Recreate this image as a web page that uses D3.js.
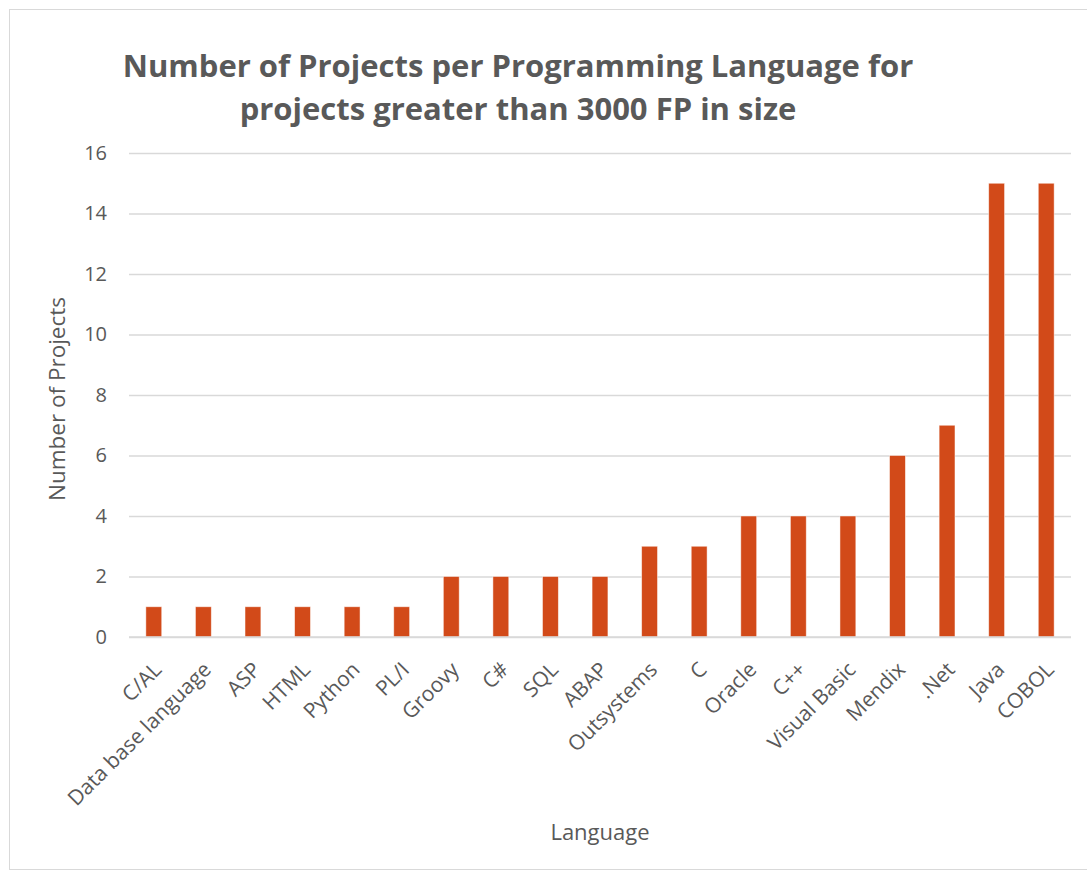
<!DOCTYPE html>
<html>
<head>
<meta charset="utf-8">
<script src="https://cdn.jsdelivr.net/npm/d3@7/dist/d3.min.js"></script>
<style>
  html, body { margin: 0; padding: 0; background: #fff; }
  svg { display: block; font-family: "Open Sans", "Noto Sans", sans-serif; }
</style>
</head>
<body>
<svg id="chart" width="1087" height="873"></svg>
<script>
// Project counts per language (projects > 3000 FP)
const languages = ["C/AL", "Data base language", "ASP", "HTML", "Python", "PL/I", "Groovy", "C#", "SQL", "ABAP",
  "Outsystems", "C", "Oracle", "C++", "Visual Basic", "Mendix", ".Net", "Java", "COBOL"];
const projectCounts = [1, 1, 1, 1, 1, 1, 2, 2, 2, 2, 3, 3, 4, 4, 4, 6, 7, 15, 15];
const yTicks = [0, 2, 4, 6, 8, 10, 12, 14, 16];
const titleLines = ["Number of Projects per Programming Language for", "projects greater than 3000 FP in size"];

const textColor = "#595959";
const gridColor = "#D9D9D9";
const barColor = "#D24A19";

const svg = d3.select("#chart");

// outer chart frame
svg.append("rect")
  .attr("x", 9.5).attr("y", 9.5)
  .attr("width", 1100).attr("height", 860)
  .attr("fill", "none").attr("stroke", gridColor).attr("stroke-width", 1);

const plot = { left: 129, right: 1071, top: 153, bottom: 637 };

const x = d3.scaleBand()
  .domain(languages)
  .range([plot.left, plot.right])
  .paddingInner(0.68)
  .paddingOuter(0.34);

const y = d3.scaleLinear()
  .domain([0, 16])
  .range([plot.bottom, plot.top]);

// horizontal gridlines + value labels
const yAxis = d3.axisLeft(y)
  .tickValues(yTicks)
  .tickSize(-(plot.right - plot.left))
  .tickPadding(22)
  .tickFormat(d3.format("d"));

const yg = svg.append("g")
  .attr("transform", `translate(${plot.left},0)`)
  .call(yAxis);
yg.select(".domain").remove();
yg.selectAll(".tick line").attr("stroke", gridColor).attr("stroke-width", 1.5);
yg.selectAll(".tick text")
  .attr("fill", textColor)
  .attr("font-size", 20)
  .attr("font-family", "'Open Sans', sans-serif");

// bars
svg.append("g")
  .selectAll("rect")
  .data(languages.map((l, i) => ({ lang: l, value: projectCounts[i] })))
  .join("rect")
  .attr("x", d => x(d.lang))
  .attr("y", d => y(d.value))
  .attr("width", x.bandwidth())
  .attr("height", d => y(0) - y(d.value))
  .attr("fill", barColor)
  .attr("stroke", "#fff")
  .attr("stroke-opacity", 0.6)
  .attr("stroke-width", 0.8);

// category axis
const xAxis = d3.axisBottom(x).tickSize(0).tickPadding(0);
const xg = svg.append("g")
  .attr("transform", `translate(0,${plot.bottom})`)
  .call(xAxis);
xg.select(".domain").attr("stroke", gridColor).attr("stroke-width", 1.5)
  .attr("d", `M${plot.left},0H${plot.right}`);
xg.selectAll(".tick text")
  .attr("fill", textColor)
  .attr("font-size", 21)
  .attr("font-family", "'Open Sans', sans-serif")
  .attr("text-anchor", "end")
  .attr("dy", null)
  .attr("y", 0)
  .attr("transform", "translate(9,34) rotate(-45)");

// title
svg.append("text")
  .attr("x", 518)
  .attr("text-anchor", "middle")
  .attr("fill", textColor)
  .attr("font-size", 31)
  .attr("font-weight", "bold")
  .attr("font-family", "'Open Sans', sans-serif")
  .selectAll("tspan")
  .data(titleLines)
  .join("tspan")
  .attr("x", 518)
  .attr("y", (d, i) => 77 + i * 43)
  .text(d => d);

// axis titles
svg.append("text")
  .attr("transform", `translate(65,399) rotate(-90)`)
  .attr("text-anchor", "middle")
  .attr("fill", textColor)
  .attr("font-size", 22.5)
  .attr("font-family", "'Open Sans', sans-serif")
  .text("Number of Projects");

svg.append("text")
  .attr("x", 600)
  .attr("y", 840)
  .attr("text-anchor", "middle")
  .attr("fill", textColor)
  .attr("font-size", 22)
  .attr("font-family", "'Open Sans', sans-serif")
  .text("Language");
</script>
</body>
</html>
